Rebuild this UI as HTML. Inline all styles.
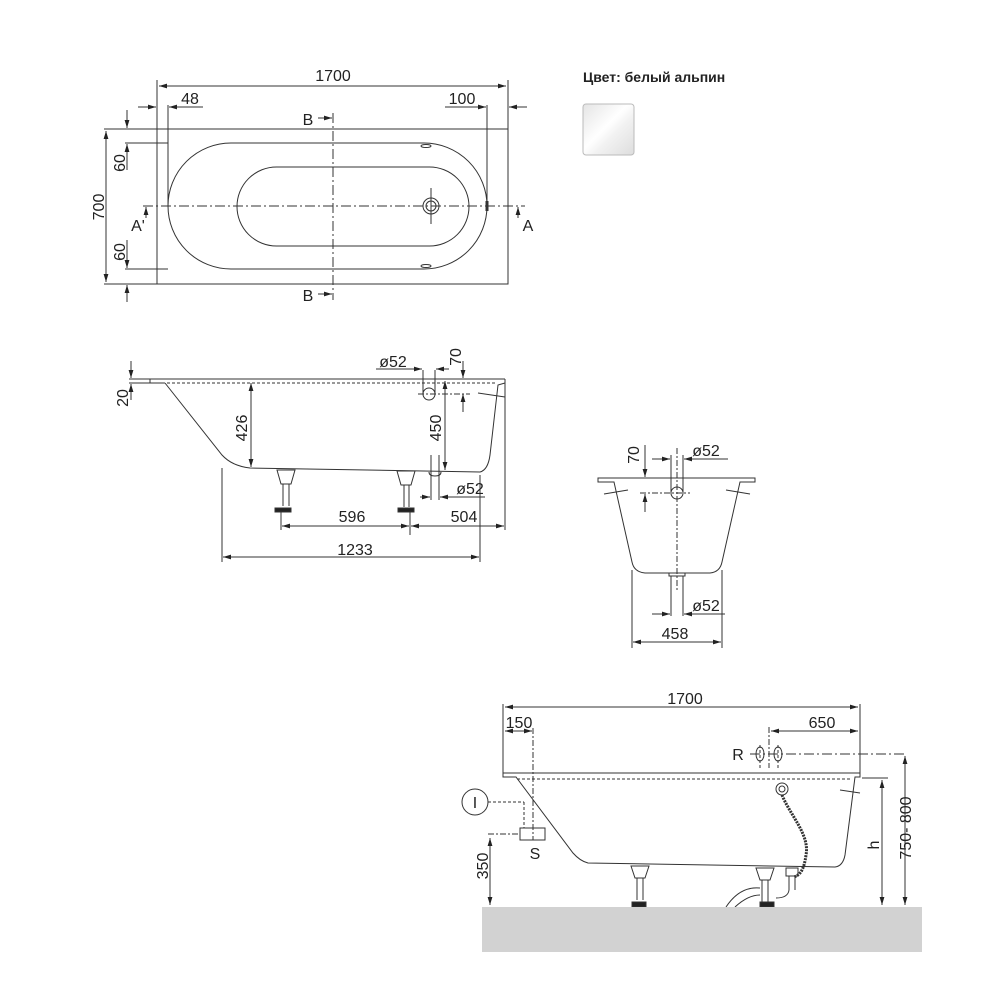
<!DOCTYPE html>
<html><head><meta charset="utf-8"><style>body{margin:0;background:#fff}svg{display:block}text{font-family:"Liberation Sans",sans-serif;fill:#222}</style></head><body>
<svg width="1000" height="1000" viewBox="0 0 1000 1000" xmlns="http://www.w3.org/2000/svg">
<defs>
<marker id="a" viewBox="0 0 10 6" refX="10" refY="3" markerWidth="8" markerHeight="5" orient="auto-start-reverse"><path d="M0,0L10,3L0,6z" fill="#222"/></marker>
<linearGradient id="g" x1="0" y1="0" x2="1" y2="1"><stop offset="0" stop-color="#e4e4e4"/><stop offset="0.45" stop-color="#fff"/><stop offset="0.6" stop-color="#f2f2f2"/><stop offset="1" stop-color="#ddd"/></linearGradient>
</defs>
<g stroke="#333" stroke-width="1" fill="none">
<rect x="157" y="129" width="351" height="155"/>
<rect x="168" y="143" width="319" height="126" rx="63"/>
<rect x="237" y="167" width="232" height="79" rx="39.5"/>
<line x1="143" y1="206" x2="525" y2="206" stroke-dasharray="10,3,2,3"/>
<line x1="333" y1="113" x2="333" y2="300" stroke-dasharray="10,3,2,3"/>
<circle cx="431" cy="206" r="8"/><circle cx="431" cy="206" r="5"/>
<line x1="431" y1="188" x2="431" y2="224"/>
<line x1="157" y1="80" x2="157" y2="129"/><line x1="508" y1="80" x2="508" y2="129"/>
<line x1="159" y1="86" x2="506" y2="86" marker-start="url(#a)" marker-end="url(#a)"/>
<line x1="168" y1="105" x2="168" y2="206"/><line x1="487" y1="105" x2="487" y2="206"/>
<line x1="138" y1="107" x2="156" y2="107" marker-end="url(#a)"/><line x1="203" y1="107" x2="169" y2="107" marker-end="url(#a)"/>
<line x1="445" y1="107" x2="486" y2="107" marker-end="url(#a)"/><line x1="527" y1="107" x2="509" y2="107" marker-end="url(#a)"/>
<line x1="104" y1="129" x2="157" y2="129"/><line x1="104" y1="284" x2="157" y2="284"/>
<line x1="106" y1="131" x2="106" y2="282" marker-start="url(#a)" marker-end="url(#a)"/>
<line x1="125" y1="143" x2="168" y2="143"/><line x1="125" y1="269" x2="168" y2="269"/>
<line x1="127" y1="110" x2="127" y2="128" marker-end="url(#a)"/><line x1="127" y1="170" x2="127" y2="144" marker-end="url(#a)"/>
<line x1="127" y1="240" x2="127" y2="268" marker-end="url(#a)"/><line x1="127" y1="302" x2="127" y2="285" marker-end="url(#a)"/>
<line x1="318" y1="118" x2="332" y2="118" marker-end="url(#a)"/><line x1="318" y1="294" x2="332" y2="294" marker-end="url(#a)"/>
<line x1="146" y1="218" x2="146" y2="207" marker-end="url(#a)"/><line x1="518" y1="218" x2="518" y2="207" marker-end="url(#a)"/>
<ellipse cx="426" cy="146" rx="5" ry="1.5"/><ellipse cx="426" cy="266" rx="5" ry="1.5"/>
<line x1="487" y1="201" x2="487" y2="211" stroke-width="3"/>

<path d="M150,379 L505,379 M150,379 L150,383 L165,383 M165,383 L222,455 Q232,466 250,468 L480,472 Q488,470 490,455 L498,385 L505,383 L505,379"/>
<line x1="167" y1="383" x2="497" y2="383" stroke-dasharray="3,2"/>
<line x1="251" y1="383" x2="251" y2="467" marker-start="url(#a)" marker-end="url(#a)"/>
<line x1="445" y1="381" x2="445" y2="470" marker-start="url(#a)" marker-end="url(#a)"/>
<line x1="131" y1="361" x2="131" y2="378" marker-end="url(#a)"/><line x1="131" y1="400" x2="131" y2="384" marker-end="url(#a)"/>
<line x1="129" y1="379" x2="150" y2="379"/><line x1="129" y1="383" x2="150" y2="383"/>
<circle cx="429" cy="394" r="6"/>
<line x1="423" y1="370" x2="423" y2="394"/><line x1="435" y1="370" x2="435" y2="394"/>
<line x1="376" y1="369" x2="422" y2="369" marker-end="url(#a)"/><line x1="449" y1="369" x2="436" y2="369" marker-end="url(#a)"/>
<line x1="463" y1="361" x2="463" y2="378" marker-end="url(#a)"/><line x1="463" y1="412" x2="463" y2="394" marker-end="url(#a)"/>
<line x1="418" y1="394" x2="470" y2="394" stroke-dasharray="6,2,2,2"/>
<line x1="478" y1="393" x2="505" y2="397"/>
<path d="M277,470 h18 l-4,14 h-10 z M283,484 v22 M289,484 v22"/><rect x="275" y="508" width="16" height="4" fill="#222"/>
<path d="M397,471 h18 l-4,14 h-10 z M404,485 v22 M409,485 v22"/><rect x="398" y="508" width="16" height="4" fill="#222"/>
<path d="M429,472 q0,4 6,4 q6,0 6,-4"/>
<line x1="431" y1="455" x2="431" y2="500"/><line x1="439" y1="455" x2="439" y2="500"/>
<line x1="420" y1="497" x2="430" y2="497" marker-end="url(#a)"/><line x1="485" y1="497" x2="440" y2="497" marker-end="url(#a)"/>
<line x1="222" y1="468" x2="222" y2="562"/><line x1="480" y1="475" x2="480" y2="562"/><line x1="505" y1="383" x2="505" y2="530"/><line x1="281" y1="512" x2="281" y2="530"/><line x1="410" y1="512" x2="410" y2="535"/>
<line x1="282" y1="526" x2="409" y2="526" marker-start="url(#a)" marker-end="url(#a)"/>
<line x1="411" y1="526" x2="504" y2="526" marker-start="url(#a)" marker-end="url(#a)"/>
<line x1="223" y1="557" x2="479" y2="557" marker-start="url(#a)" marker-end="url(#a)"/>

<path d="M598,478 H755 V482 H740 L722,562 Q720,572 710,573 H645 Q634,572 632,562 L614,482 H598 Z"/>
<line x1="604" y1="494" x2="628" y2="490"/><line x1="726" y1="490" x2="750" y2="494"/>
<line x1="677" y1="448" x2="677" y2="590" stroke-dasharray="6,2,2,2"/>
<line x1="640" y1="493" x2="690" y2="493" stroke-dasharray="6,2,2,2"/>
<circle cx="677" cy="493" r="6"/>
<line x1="671" y1="455" x2="671" y2="493"/><line x1="683" y1="455" x2="683" y2="493"/>
<line x1="652" y1="459" x2="670" y2="459" marker-end="url(#a)"/><line x1="728" y1="459" x2="684" y2="459" marker-end="url(#a)"/>
<line x1="645" y1="445" x2="645" y2="477" marker-end="url(#a)"/><line x1="645" y1="512" x2="645" y2="494" marker-end="url(#a)"/>
<path d="M669,573 v3 h16 v-3"/>
<line x1="671" y1="576" x2="671" y2="616"/><line x1="683" y1="576" x2="683" y2="616"/>
<line x1="652" y1="614" x2="670" y2="614" marker-end="url(#a)"/><line x1="725" y1="614" x2="684" y2="614" marker-end="url(#a)"/>
<line x1="632" y1="570" x2="632" y2="648"/><line x1="722" y1="570" x2="722" y2="648"/>
<line x1="633" y1="642" x2="721" y2="642" marker-start="url(#a)" marker-end="url(#a)"/>

<path d="M503,773 H860 V777 H855 L845,855 Q843,866 835,867 L588,863 Q580,861 573,853 L516,777 H503 Z"/>
<line x1="517" y1="779" x2="852" y2="779" stroke-dasharray="3,2"/>
<line x1="503" y1="704" x2="503" y2="773"/><line x1="860" y1="704" x2="860" y2="773"/>
<line x1="505" y1="707" x2="858" y2="707" marker-start="url(#a)" marker-end="url(#a)"/>
<line x1="533" y1="728" x2="533" y2="840" stroke-dasharray="6,2,2,2"/>
<line x1="505" y1="731" x2="532" y2="731" marker-start="url(#a)" marker-end="url(#a)"/>
<line x1="769" y1="727" x2="769" y2="768" stroke-dasharray="6,2,2,2"/>
<line x1="771" y1="731" x2="858" y2="731" marker-start="url(#a)" marker-end="url(#a)"/>
<line x1="750" y1="754" x2="905" y2="754" stroke-dasharray="10,3,2,3"/>
<ellipse cx="760" cy="754" rx="4" ry="7"/><ellipse cx="778" cy="754" rx="4" ry="7"/>
<line x1="760" y1="745" x2="760" y2="768" stroke-dasharray="3,2"/><line x1="778" y1="745" x2="778" y2="768" stroke-dasharray="3,2"/>
<line x1="862" y1="778" x2="888" y2="778"/>
<line x1="882" y1="780" x2="882" y2="905" marker-start="url(#a)" marker-end="url(#a)"/>
<line x1="905" y1="756" x2="905" y2="905" marker-start="url(#a)" marker-end="url(#a)"/>
<line x1="840" y1="790" x2="860" y2="793"/>
<circle cx="475" cy="802" r="13"/>
<line x1="488" y1="802" x2="524" y2="802" stroke-dasharray="3,2"/><line x1="524" y1="802" x2="524" y2="828" stroke-dasharray="3,2"/>
<rect x="520" y="828" width="25" height="12"/>
<line x1="488" y1="834" x2="520" y2="834" stroke-dasharray="6,2,2,2"/>
<line x1="490" y1="838" x2="490" y2="905" marker-start="url(#a)" marker-end="url(#a)"/>
<circle cx="782" cy="789" r="6"/><circle cx="782" cy="789" r="3"/>
<path d="M782,795 C790,815 810,835 806,855 C804,870 800,875 794,877" stroke-width="3" stroke-dasharray="2,1"/>
<path d="M631,866 h18 l-4,12 h-10 z M637,878 v22 M643,878 v22"/><rect x="632" y="902" width="14" height="5" fill="#222"/>
<path d="M756,868 h18 l-4,12 h-10 z M762,880 v22 M768,880 v22"/><rect x="760" y="902" width="14" height="5" fill="#222"/>
<path d="M786,868 h12 v8 h-12 z M789,876 v14 M795,876 v14"/>
<path d="M726,907 Q740,886 760,888 M735,907 Q748,895 760,895 M789,890 Q788,898 776,898"/>
</g>
<rect x="482" y="907" width="440" height="45" fill="#d2d2d2"/>
<rect x="583" y="104" width="51" height="51" rx="3" fill="url(#g)" stroke="#bbb"/>
<g font-size="16">
<text x="333" y="81" text-anchor="middle">1700</text>
<text x="190" y="104" text-anchor="middle">48</text>
<text x="462" y="104" text-anchor="middle">100</text>
<text x="308" y="125" text-anchor="middle">B</text>
<text x="308" y="301" text-anchor="middle">B</text>
<text x="138" y="231" text-anchor="middle">A'</text>
<text x="528" y="231" text-anchor="middle">A</text>
<text transform="translate(104,207) rotate(-90)" text-anchor="middle">700</text>
<text transform="translate(125,163) rotate(-90)" text-anchor="middle">60</text>
<text transform="translate(125,252) rotate(-90)" text-anchor="middle">60</text>
<text x="583" y="82" font-size="14" font-weight="bold">Цвет: белый альпин</text>
<text transform="translate(128,398) rotate(-90)" text-anchor="middle">20</text>
<text transform="translate(247,428) rotate(-90)" text-anchor="middle">426</text>
<text transform="translate(441,428) rotate(-90)" text-anchor="middle">450</text>
<text x="393" y="367" text-anchor="middle">ø52</text>
<text transform="translate(461,357) rotate(-90)" text-anchor="middle">70</text>
<text x="470" y="494" text-anchor="middle">ø52</text>
<text x="352" y="522" text-anchor="middle">596</text>
<text x="464" y="522" text-anchor="middle">504</text>
<text x="355" y="555" text-anchor="middle">1233</text>
<text transform="translate(639,455) rotate(-90)" text-anchor="middle">70</text>
<text x="706" y="456" text-anchor="middle">ø52</text>
<text x="706" y="611" text-anchor="middle">ø52</text>
<text x="675" y="639" text-anchor="middle">458</text>
<text x="685" y="704" text-anchor="middle">1700</text>
<text x="519" y="728" text-anchor="middle">150</text>
<text x="822" y="728" text-anchor="middle">650</text>
<text x="738" y="760" text-anchor="middle">R</text>
<text x="475" y="808" text-anchor="middle">I</text>
<text x="535" y="859" text-anchor="middle">S</text>
<text transform="translate(488,866) rotate(-90)" text-anchor="middle">350</text>
<text transform="translate(879,845) rotate(-90)" text-anchor="middle">h</text>
<text transform="translate(911,828) rotate(-90)" text-anchor="middle">750- 800</text>
</g>
</svg>
</body></html>
